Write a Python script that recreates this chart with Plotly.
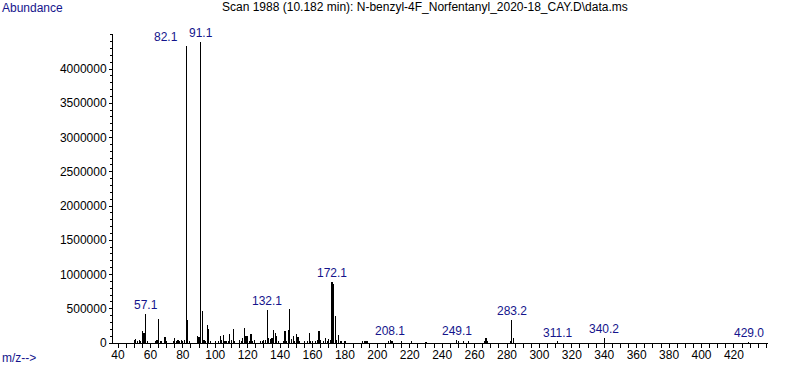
import plotly.graph_objects as go

# ---- data ----
mz = [50, 51, 52, 53, 54, 55, 56, 57, 58, 63, 64, 65, 66, 67, 69, 70, 74, 75, 76, 77,
      78, 79, 80, 81, 82, 83, 84, 89, 90, 91, 92, 93, 94, 95, 96, 97, 100, 102, 103, 104,
      105, 106, 107, 108, 109, 110, 111, 112, 115, 116, 117, 118, 119, 120, 121, 122, 123, 124, 128, 129,
      130, 131, 132, 133, 134, 135, 136, 137, 138, 139, 142, 143, 144, 145, 146, 147, 148, 149, 150, 151,
      152, 155, 157, 158, 159, 160, 162, 163, 164, 165, 167, 168, 169, 170, 171, 172, 173, 174, 175, 176,
      177, 178, 180, 191, 192, 193, 194, 207, 208, 209, 215, 221, 230, 249, 250, 253, 256, 266, 267, 268,
      282, 283, 284, 311, 340, 429]
abundance = [40000, 60000, 30000, 50000, 30000, 180000, 150000, 430000, 20000, 30000, 50000, 350000, 30000, 35000, 90000, 20000, 20000, 80000, 20000, 40000,
             30000, 50000, 30000, 40000, 4340000, 330000, 30000, 100000, 90000, 4400000, 460000, 40000, 20000, 260000, 210000, 20000, 20000, 30000, 100000, 40000,
             110000, 30000, 20000, 30000, 130000, 40000, 200000, 30000, 40000, 20000, 80000, 220000, 100000, 100000, 30000, 130000, 30000, 40000, 20000, 30000,
             40000, 40000, 480000, 80000, 60000, 80000, 190000, 150000, 100000, 30000, 20000, 170000, 30000, 190000, 490000, 60000, 100000, 30000, 130000, 90000,
             30000, 20000, 20000, 150000, 30000, 20000, 30000, 40000, 175000, 40000, 30000, 70000, 30000, 60000, 40000, 890000, 860000, 390000, 40000, 120000,
             30000, 20000, 15000, 15000, 25000, 30000, 20000, 20000, 45000, 20000, 15000, 15000, 10000, 40000, 20000, 15000, 20000, 30000, 70000, 20000,
             20000, 330000, 70000, 15000, 70000, 8000]

label_text = ["57.1", "82.1", "91.1", "132.1", "172.1", "208.1", "249.1", "283.2", "311.1", "340.2", "429.0"]
label_mz = [57, 82, 91, 132, 172, 208, 249, 283, 311, 340, 429]

y_ticks = [0, 500000, 1000000, 1500000, 2000000, 2500000, 3000000, 3500000, 4000000]
x_ticks = list(range(40, 421, 20))

title_text = "Scan 1988 (10.182 min): N-benzyl-4F_Norfentanyl_2020-18_CAY.D\\data.ms"

LBL = "#14148c"
FONT = "Liberation Sans, Arial, sans-serif"

fig = go.Figure()
fig.add_trace(go.Bar(x=mz, y=abundance, width=0.1,
                     marker=dict(color="black", line=dict(width=0)),
                     hoverinfo="x+y"))

lookup = dict(zip(mz, abundance))
for txt, m in zip(label_text, label_mz):
    xa, xs = "center", 0
    if txt == "82.1":
        xa, xs = "right", -6
    fig.add_annotation(x=m, y=lookup[m], text=txt, showarrow=False,
                       xanchor=xa, xshift=xs, yanchor="bottom", yshift=0,
                       font=dict(family=FONT, size=12, color=LBL))

fig.add_annotation(xref="paper", yref="paper", x=-113 / 655, y=1 + 26 / 309,
                   text="Abundance", showarrow=False, xanchor="left", yanchor="middle",
                   font=dict(family=FONT, size=12, color=LBL))
fig.add_annotation(xref="paper", yref="paper", x=-113 / 655, y=-15 / 309,
                   text="m/z-->", showarrow=False, xanchor="left", yanchor="middle",
                   font=dict(family=FONT, size=12, color=LBL))

fig.update_layout(
    width=787, height=367,
    margin=dict(l=113, r=19, t=34, b=24, pad=0, autoexpand=False),
    paper_bgcolor="white", plot_bgcolor="white",
    showlegend=False, bargap=0,
    font=dict(family=FONT, size=12, color="black"),
    title=dict(text=title_text, x=222 / 787, xanchor="left", xref="container",
               y=1 - 7 / 367, yanchor="middle", yref="container",
               font=dict(family=FONT, size=12, color="black")),
    xaxis=dict(range=[36.9, 441], tickvals=x_ticks, ticks="outside", ticklen=4,
               tickwidth=1, tickcolor="black", showline=True, linecolor="black",
               linewidth=1, showgrid=False, zeroline=False, automargin=False,
               ticklabelstandoff=-3,
               minor=dict(dtick=5, tick0=0, ticks="outside", ticklen=4, tickcolor="black", showgrid=False),
               tickfont=dict(family=FONT, size=12, color="black")),
    yaxis=dict(range=[0, 4511000], tickvals=y_ticks, ticktext=[str(v) for v in y_ticks],
               ticks="outside", ticklen=3, tickwidth=1, tickcolor="black",
               showline=True, linecolor="black", linewidth=1, showgrid=False, zeroline=False,
               automargin=False,
               minor=dict(dtick=100000, tick0=0, ticks="outside", ticklen=2, tickcolor="black", showgrid=False),
               tickfont=dict(family=FONT, size=12, color="black")),
)

fig.write_html("out.html", config={"displayModeBar": False},
               post_script="document.body.style.margin='0';document.body.style.overflow='hidden';")
